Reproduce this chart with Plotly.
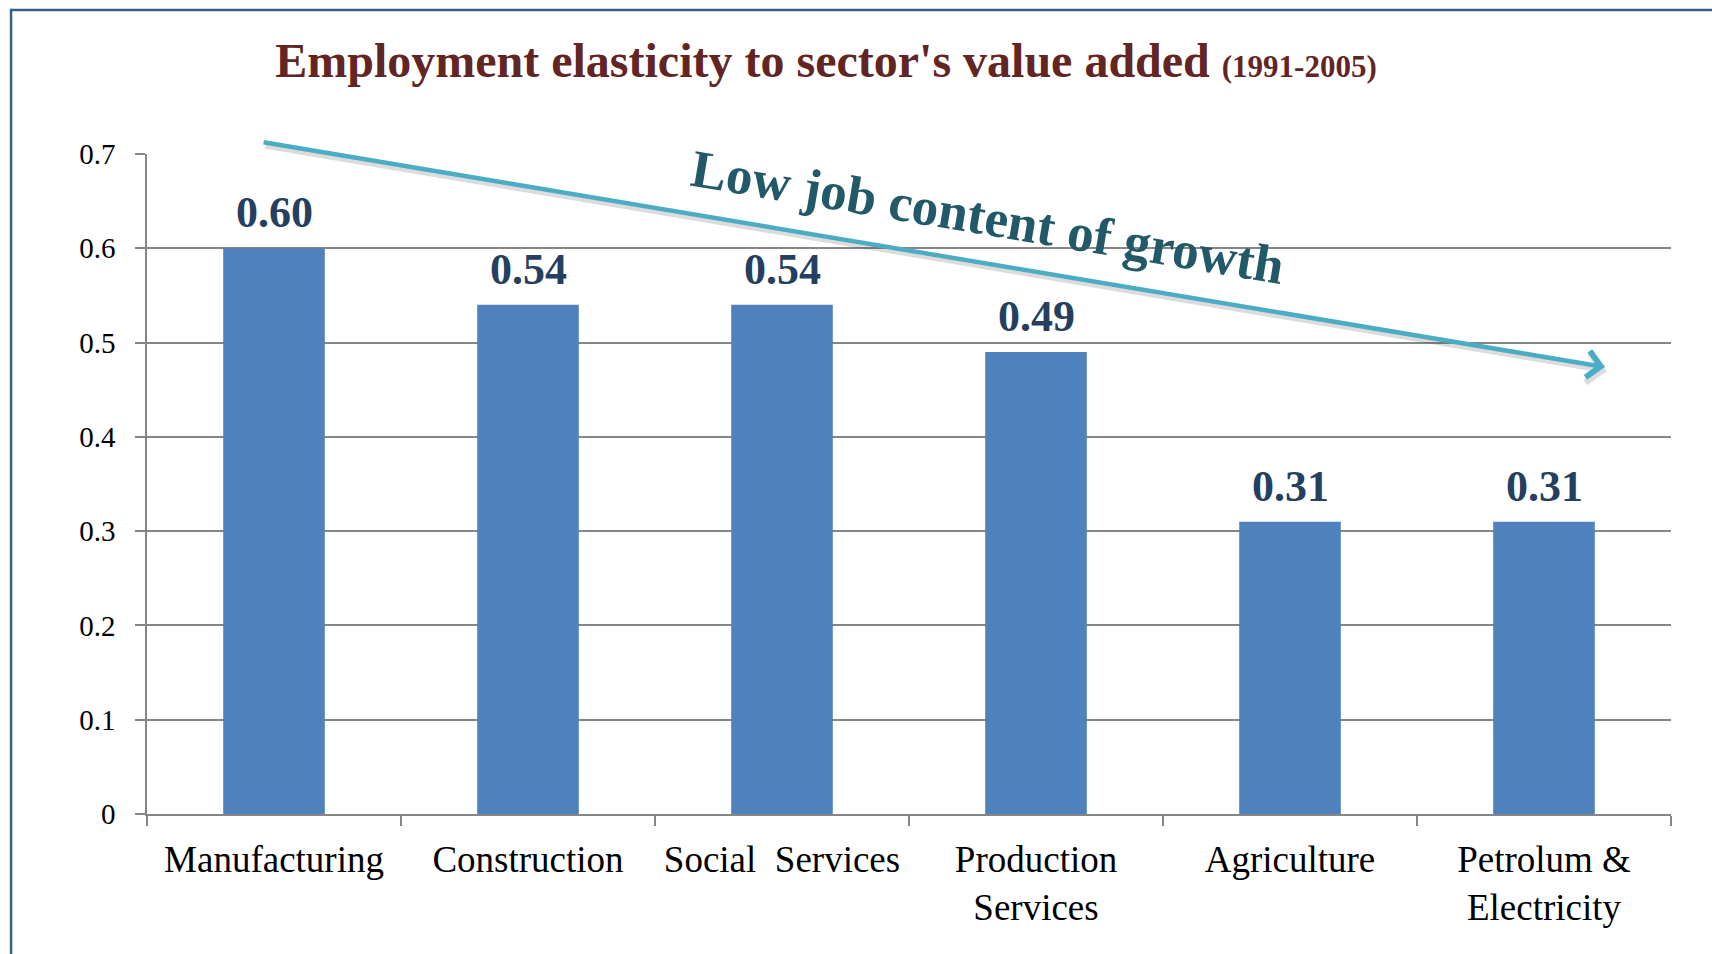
import plotly.graph_objects as go

# Sector elasticities of employment to value added, 1991-2005
sectors = ["Manufacturing", "Construction", "Social  Services",
           "Production<br>Services", "Agriculture", "Petrolum &<br>Electricity"]
elasticity = [0.60, 0.54, 0.54, 0.49, 0.31, 0.31]
y_ticks = [0, 0.1, 0.2, 0.3, 0.4, 0.5, 0.6, 0.7]
y_tick_text = ["0", "0.1", "0.2", "0.3", "0.4", "0.5", "0.6", "0.7"]

SERIF = "Liberation Serif, Times New Roman, serif"
BAR = "#4F81BD"
GRID = "#868686"

fig = go.Figure()
fig.add_trace(go.Bar(
    x=sectors, y=elasticity, marker=dict(color=BAR, line=dict(width=0)),
    width=0.4, hoverinfo="x+y",
))

annotations = []
# value labels above each bar
for s, v in zip(sectors, elasticity):
    annotations.append(dict(
        x=s, y=v, xref="x", yref="y", text=f"<b>{v:.2f}</b>",
        showarrow=False, yanchor="bottom", yshift=9,
        font=dict(family=SERIF, size=44, color="#243F60"),
    ))

# downward trend arrow (soft shadow first, then the line itself)
arrow_tail = (-0.047, 0.7127)
arrow_head = (5.24, 0.474)
annotations.append(dict(
    x=arrow_head[0], y=arrow_head[1], ax=arrow_tail[0], ay=arrow_tail[1],
    xref="x", yref="y", axref="x", ayref="y", text="",
    showarrow=True, arrowhead=4, arrowsize=1.15, arrowwidth=5,
    arrowcolor="rgba(60,60,60,0.18)", xshift=2, yshift=-4, standoff=0,
))
annotations.append(dict(
    x=arrow_head[0], y=arrow_head[1], ax=arrow_tail[0], ay=arrow_tail[1],
    xref="x", yref="y", axref="x", ayref="y", text="",
    showarrow=True, arrowhead=4, arrowsize=1.15, arrowwidth=4.5,
    arrowcolor="#4BACC6", standoff=0,
))
annotations.append(dict(
    x=0.552, y=0.905, xref="paper", yref="paper",
    text="<b>Low job content of growth</b>", showarrow=False,
    textangle=9.5, xanchor="center", yanchor="middle",
    font=dict(family=SERIF, size=53, color="#215968"),
))

# slide frame (left and top edges)
shapes = [
    dict(type="line", xref="paper", yref="paper", x0=-0.0892, x1=-0.0892,
         y0=1.22, y1=-0.25, line=dict(color="#3A5F8B", width=2.5)),
    dict(type="line", xref="paper", yref="paper", x0=-0.0892, x1=1.05,
         y0=1.218, y1=1.218, line=dict(color="#3A5F8B", width=2.5)),
]

fig.update_layout(
    width=1712, height=954,
    margin=dict(l=147, r=41, t=154, b=140),
    paper_bgcolor="white", plot_bgcolor="white",
    font=dict(family=SERIF, color="black"),
    showlegend=False, bargap=0.6,
    title=dict(
        text="<b>Employment elasticity to sector's value added "
             "<span style='font-size:31px'>(1991-2005)</span></b>",
        xref="container", yref="container", x=826 / 1712, y=1 - 60 / 954,
        xanchor="center", yanchor="middle",
        font=dict(family=SERIF, size=48, color="#632523"),
    ),
    annotations=annotations, shapes=shapes,
)
fig.update_xaxes(
    type="category", range=[-0.5, 5.5], showline=True, linecolor=GRID,
    linewidth=1.5, ticks="outside", tickson="boundaries", ticklen=10,
    tickcolor=GRID, tickwidth=1.5, showgrid=False,
    tickfont=dict(family=SERIF, size=37, color="black"), ticklabelstandoff=12,
)
fig.update_yaxes(
    range=[0, 0.7], tickvals=y_ticks, ticktext=y_tick_text, showline=True,
    linecolor=GRID, linewidth=1.5, ticks="outside", ticklen=10,
    tickcolor=GRID, tickwidth=1.5, showgrid=True, gridcolor=GRID,
    gridwidth=1.5, zeroline=False,
    tickfont=dict(family=SERIF, size=29, color="black"), ticklabelstandoff=14,
)

fig.write_html("out.html")
